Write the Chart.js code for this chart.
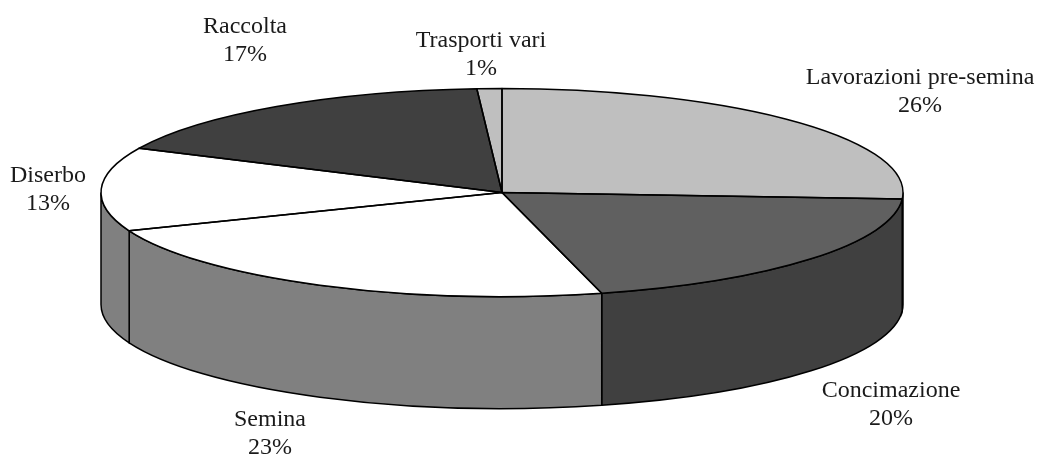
<!DOCTYPE html>
<html lang="it">
<head>
  <meta charset="UTF-8" />
  <title>Ripartizione dei costi</title>
  <script src="https://cdn.jsdelivr.net/npm/chart.js"></script>
  <style>
    html, body { margin: 0; background: #fff; }
    canvas { display: block; }
  </style>
</head>
<body>
<canvas id="pie" width="1040" height="456"></canvas>
<script>
  const categories = ["Lavorazioni pre-semina", "Concimazione", "Semina", "Diserbo", "Raccolta", "Trasporti vari"];
  const shares = [26, 20, 23, 13, 17, 1];

  const topColors = ["#bfbfbf", "#606060", "#ffffff", "#ffffff", "#404040", "#bfbfbf"];
  const wallColors = ["#606060", "#404040", "#808080", "#808080", "#202020", "#606060"];
  // centre of each two line label, same order as categories
  const labelSpots = [[920, 78], [891, 391], [270, 420], [48, 176], [245, 27], [481, 41]];

  const RADIUS = 401, SQUASH = 104 / 401, DEPTH = 112, LINE_GAP = 28;

  const tilt = {
    id: "tilt",
    beforeDatasetsDraw(chart) {
      const ctx = chart.ctx;
      const arcs = chart.getDatasetMeta(0).data;
      ctx.save();
      ctx.lineWidth = 1.5;
      ctx.strokeStyle = "#000";
      arcs.forEach((arc, i) => {
        const from = Math.max(arc.startAngle, 0);
        const to = Math.min(arc.endAngle, Math.PI);
        if (to <= from) return;
        const ry = arc.outerRadius * SQUASH;
        ctx.beginPath();
        ctx.ellipse(arc.x, arc.y, arc.outerRadius, ry, 0, from, to);
        ctx.ellipse(arc.x, arc.y + DEPTH, arc.outerRadius, ry, 0, to, from, true);
        ctx.closePath();
        ctx.fillStyle = wallColors[i];
        ctx.fill();
        ctx.stroke();
      });
      ctx.restore();

      const first = arcs[0];
      ctx.save();
      ctx.translate(first.x, first.y);
      ctx.scale(1, SQUASH);
      ctx.translate(-first.x, -first.y);
    },
    afterDatasetsDraw(chart) {
      const ctx = chart.ctx;
      ctx.restore();
      const arcs = chart.getDatasetMeta(0).data;
      ctx.save();
      ctx.lineWidth = 1.5;
      ctx.strokeStyle = "#000";
      ctx.lineJoin = "round";
      arcs.forEach(arc => {
        ctx.beginPath();
        ctx.moveTo(arc.x, arc.y);
        ctx.ellipse(arc.x, arc.y, arc.outerRadius, arc.outerRadius * SQUASH, 0, arc.startAngle, arc.endAngle);
        ctx.closePath();
        ctx.stroke();
      });
      ctx.fillStyle = "#1a1a1a";
      ctx.font = '24px "Liberation Serif"';
      ctx.textAlign = "center";
      ctx.textBaseline = "middle";
      categories.forEach((name, i) => {
        const [x, y] = labelSpots[i];
        ctx.fillText(name, x, y);
        ctx.fillText(shares[i] + "%", x, y + LINE_GAP);
      });
      ctx.restore();
    }
  };

  new Chart(document.getElementById("pie"), {
    type: "pie",
    data: {
      labels: categories,
      datasets: [{ data: shares, backgroundColor: topColors, borderWidth: 0 }]
    },
    options: {
      responsive: false,
      animation: false,
      radius: RADIUS,
      layout: { padding: { right: 36, bottom: 71 } },
      plugins: { legend: { display: false }, tooltip: { enabled: false } }
    },
    plugins: [tilt]
  });
</script>
</body>
</html>
